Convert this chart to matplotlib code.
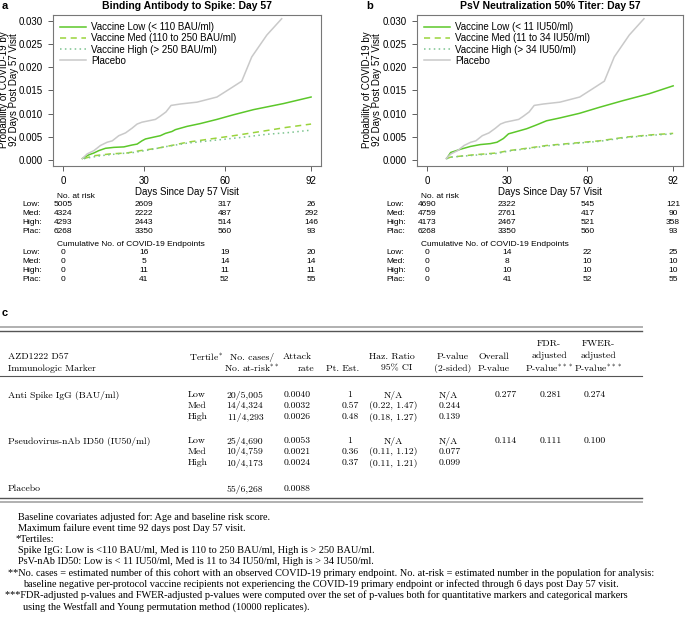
import numpy as np
import matplotlib.pyplot as plt
import matplotlib.transforms as mtransforms

W, H = 685, 619

# cumulative incidence curves (days, probability)
plac_days = [7.2, 9, 11.5, 13.9, 16.4, 18.3, 20.7, 23.2, 25.6, 27.5, 29.3, 31.8, 34.3,
             36.1, 38.2, 40.1, 43.5, 49.7, 57.1, 62, 66.3, 70, 75.6, 81.1]
plac_prob = [0.0004, 0.0014, 0.0021, 0.0032, 0.0039, 0.0042, 0.0053, 0.0059, 0.0069,
             0.0078, 0.0082, 0.0085, 0.0088, 0.0095, 0.0104, 0.0118, 0.0121, 0.0125,
             0.0136, 0.0154, 0.0170, 0.0222, 0.0269, 0.0304]

spike_low_days = [7.2, 9.6, 11.5, 13.3, 15.8, 18.9, 22.6, 25.6, 27.5, 29.3, 30.6, 33.7,
                  36.1, 38, 40.4, 41.7, 46, 50.9, 57.1, 63.3, 70.7, 81.8, 92]
spike_low_prob = [0.0004, 0.0012, 0.0016, 0.0021, 0.0026, 0.0028, 0.0029, 0.0033, 0.0035,
                  0.0042, 0.0046, 0.0050, 0.0053, 0.0058, 0.0062, 0.0066, 0.0073, 0.0079,
                  0.0088, 0.0098, 0.0109, 0.0122, 0.0136]
spike_med_days = [7.8, 11.5, 17.6, 23.8, 28.7, 34.9, 41.1, 46, 53.4, 63.3, 74.4, 83, 92]
spike_med_prob = [0.0004, 0.0010, 0.0014, 0.0016, 0.0021, 0.0026, 0.0033, 0.0039, 0.0045,
                  0.0053, 0.0063, 0.0071, 0.0078]
spike_high_days = [7.8, 13.9, 20.1, 26.3, 32.4, 38.6, 46, 55.9, 65.7, 75.6, 84.2, 92]
spike_high_prob = [0.0004, 0.0010, 0.0014, 0.0017, 0.0023, 0.0030, 0.0037, 0.0043, 0.0049,
                   0.0056, 0.0060, 0.0065]

psv_low_days = [7.4, 8.9, 12.6, 16.3, 20, 23.7, 26.2, 28.6, 30.5, 33.6, 37.3, 40.9, 44.7,
                49.6, 57, 64.5, 73.1, 83, 92]
psv_low_prob = [0.0004, 0.0017, 0.0024, 0.0030, 0.0034, 0.0036, 0.0039, 0.0047, 0.0057,
                0.0062, 0.0068, 0.0076, 0.0085, 0.0091, 0.0101, 0.0114, 0.0128, 0.0143, 0.0160]
psv_med_days = [7.4, 8.9, 17.5, 26.2, 30.5, 37.3, 44.7, 54.6, 64.5, 74.3, 84.2, 92]
psv_med_prob = [0.0004, 0.0007, 0.0012, 0.0016, 0.0021, 0.0026, 0.0032, 0.0037, 0.0042,
                0.0050, 0.0055, 0.0058]
psv_high_days = [7.4, 8.9, 17.5, 26.2, 30.5, 37.3, 44.7, 54.6, 64.5, 74.3, 84.2, 92]
psv_high_prob = [0.0004, 0.0007, 0.0011, 0.0015, 0.0020, 0.0025, 0.0031, 0.0036, 0.0041,
                 0.0049, 0.0054, 0.0057]

# risk tables
risk_times = [0, 30, 60, 92]
risk_rows = ['Low:', 'Med:', 'High:', 'Plac:']
spike_at_risk = [[5005, 2609, 317, 26], [4324, 2222, 487, 292],
                 [4293, 2443, 514, 146], [6268, 3350, 560, 93]]
spike_events = [[0, 16, 19, 20], [0, 5, 14, 14], [0, 11, 11, 11], [0, 41, 52, 55]]
psv_at_risk = [[4690, 2322, 545, 121], [4759, 2761, 417, 90],
               [4173, 2467, 521, 358], [6268, 3350, 560, 93]]
psv_events = [[0, 14, 22, 25], [0, 8, 10, 10], [0, 10, 10, 10], [0, 41, 52, 55]]

spike_labels = ['Vaccine Low (< 110 BAU/ml)', 'Vaccine Med (110 to 250 BAU/ml)',
                'Vaccine High (> 250 BAU/ml)', 'Placebo']
psv_labels = ['Vaccine Low (< 11 IU50/ml)', 'Vaccine Med (11 to 34 IU50/ml)',
              'Vaccine High (> 34 IU50/ml)', 'Placebo']

# table c
tertiles = ['Low', 'Med', 'High']
spike_cases = ['20/5,005', '14/4,324', '11/4,293']
spike_rate = ['0.0040', '0.0032', '0.0026']
spike_hr = ['1', '0.57', '0.48']
spike_ci = ['N/A', '(0.22, 1.47)', '(0.18, 1.27)']
spike_p = ['N/A', '0.244', '0.139']
spike_overall = ['0.277', '0.281', '0.274']
psv_cases = ['25/4,690', '10/4,759', '10/4,173']
psv_rate = ['0.0053', '0.0021', '0.0024']
psv_hr = ['1', '0.36', '0.37']
psv_ci = ['N/A', '(0.11, 1.12)', '(0.11, 1.21)']
psv_p = ['N/A', '0.077', '0.099']
psv_overall = ['0.114', '0.111', '0.100']
placebo_cases = '55/6,268'
placebo_rate = '0.0088'

footnotes = [
    (18, 'Baseline covariates adjusted for: Age and baseline risk score.'),
    (18, 'Maximum failure event time 92 days post Day 57 visit.'),
    (15, '*Tertiles:'),
    (18, 'Spike IgG: Low is <110 BAU/ml, Med is 110 to 250 BAU/ml, High is > 250 BAU/ml.'),
    (18, 'PsV-nAb ID50: Low is < 11 IU50/ml, Med is 11 to 34 IU50/ml, High is > 34 IU50/ml.'),
    (8, '**No. cases = estimated number of this cohort with an observed COVID-19 primary endpoint. '
        'No. at-risk = estimated number in the population for analysis:'),
    (23, 'baseline negative per-protocol vaccine recipients not experiencing the COVID-19 primary '
         'endpoint or infected through 6 days post Day 57 visit.'),
    (5, '***FDR-adjusted p-values and FWER-adjusted p-values were computed over the set of p-values '
        'both for quantitative markers and categorical markers'),
    (23, 'using the Westfall and Young permutation method (10000 replicates).'),
]

plt.rcParams['font.family'] = ['Liberation Sans', 'DejaVu Sans']
plt.rcParams['mathtext.fontset'] = 'cm'

fig = plt.figure(figsize=(W / 100, H / 100), dpi=100)


def fx(x):
    return x / W


def fy(y):
    return 1 - y / H


col_low, col_med, col_high, col_plac = '#5cc72a', '#9ad43c', '#7cc48f', '#c9c9c9'


def km_panel(left, right, title, letter, curves, labels, at_risk, events, ylab_x):
    ax = fig.add_axes([fx(left), fy(166), fx(right - left), (166 - 15) / H])
    (d1, p1), (d2, p2), (d3, p3), (d4, p4) = curves
    ax.plot(d1, p1, color=col_low, lw=1.1, label=labels[0])
    ax.plot(d2, p2, color=col_med, lw=1.1, ls=(0, (4, 3)), label=labels[1])
    ax.plot(d3, p3, color=col_high, lw=1.1, ls=(0, (1, 2.2)), label=labels[2])
    ax.plot(d4, p4, color=col_plac, lw=1.1, label=labels[3])
    ax.set_xlim(-3.68, 95.68)
    ax.set_ylim(-0.0012, 0.0312)
    ax.set_xticks(risk_times)
    ax.set_yticks(np.arange(0, 0.0301, 0.005))
    ax.set_yticklabels(['%.3f' % v for v in np.arange(0, 0.0301, 0.005)])
    ax.tick_params(labelsize=7, length=3.5, width=0.6, pad=4, color='#444444')
    for s in ax.spines.values():
        s.set_color('#777777')
        s.set_linewidth(0.8)
    ax.legend(loc='upper left', bbox_to_anchor=(0.0, 1.0), frameon=False, fontsize=7,
              handlelength=2.6, handletextpad=0.6, labelspacing=0.12, borderaxespad=0.35)
    ax.set_title(title, fontsize=7.5, fontweight='bold', pad=4)
    fig.text(fx(left - 51), fy(6), letter, fontsize=8, fontweight='bold', va='center')
    fig.text(fx(ylab_x), fy(90), 'Probability of COVID-19 by\n92 Days Post Day 57 Visit',
             rotation=90, fontsize=7, ha='center', va='center', linespacing=1.0)
    fig.text(fx((left + right) / 2), fy(192), 'Days Since Day 57 Visit', fontsize=7,
             ha='center', va='center')

    tr = mtransforms.blended_transform_factory(ax.transData, fig.transFigure)
    fig.text(fx(left + 4), fy(196), 'No. at risk', fontsize=6, va='center')
    fig.text(fx(left + 4), fy(244.5), 'Cumulative No. of COVID-19 Endpoints', fontsize=6,
             va='center')
    for block, y0 in ((at_risk, 205), (events, 253)):
        for i, row in enumerate(block):
            y = y0 + i * 8.9
            fig.text(fx(left - 31), fy(y), risk_rows[i], fontsize=6, va='center')
            for t, v in zip(risk_times, row):
                ax.text(t, fy(y), str(v), transform=tr, fontsize=6, ha='center', va='center')
    return ax


km_panel(53, 321, 'Binding Antibody to Spike: Day 57', 'a',
         [(spike_low_days, spike_low_prob), (spike_med_days, spike_med_prob),
          (spike_high_days, spike_high_prob), (plac_days, plac_prob)],
         spike_labels, spike_at_risk, spike_events, 9.5)
km_panel(417, 683, 'PsV Neutralization 50% Titer: Day 57', 'b',
         [(psv_low_days, psv_low_prob), (psv_med_days, psv_med_prob),
          (psv_high_days, psv_high_prob), (plac_days, plac_prob)],
         psv_labels, psv_at_risk, psv_events, 372)

# ---- table c ----
cm = dict(family='cmr10', fontsize=7.0, va='center')
fig.text(fx(2), fy(313), 'c', fontsize=8, fontweight='bold', va='center')


def hline(y, lw, color):
    fig.add_artist(plt.Line2D([fx(0), fx(642)], [fy(y), fy(y)], lw=lw, color=color))


hline(327, 1.4, '#b0b0b0')
hline(331, 1.0, '#555555')
hline(375.5, 0.8, '#555555')

fig.text(fx(8), fy(357), 'AZD1222 D57', ha='left', **cm)
fig.text(fx(8), fy(368.5), 'Immunologic Marker', ha='left', **cm)
fig.text(fx(206), fy(357), 'Tertile$^{*}$', ha='center', **cm)
fig.text(fx(252), fy(357), 'No. cases/', ha='center', **cm)
fig.text(fx(252), fy(368.5), 'No. at-risk$^{**}$', ha='center', **cm)
fig.text(fx(297), fy(357), 'Attack', ha='center', **cm)
fig.text(fx(306), fy(368.5), 'rate', ha='center', **cm)
fig.text(fx(392), fy(357), 'Haz. Ratio', ha='center', **cm)
fig.text(fx(343), fy(368.5), 'Pt. Est.', ha='center', **cm)
fig.text(fx(397), fy(368.5), '95% CI', ha='center', **cm)
fig.text(fx(453), fy(357), 'P-value', ha='center', **cm)
fig.text(fx(453), fy(368.5), '(2-sided)', ha='center', **cm)
fig.text(fx(494), fy(357), 'Overall', ha='center', **cm)
fig.text(fx(494), fy(368.5), 'P-value', ha='center', **cm)
for xc, first in ((549, 'FDR-'), (598, 'FWER-')):
    fig.text(fx(xc), fy(344), first, ha='center', **cm)
    fig.text(fx(xc), fy(356), 'adjusted', ha='center', **cm)
    fig.text(fx(xc), fy(368.5), 'P-value$^{***}$', ha='center', **cm)

groups = [('Anti Spike IgG (BAU/ml)', spike_cases, spike_rate, spike_hr, spike_ci, spike_p,
           spike_overall, 395),
          ('Pseudovirus-nAb ID50 (IU50/ml)', psv_cases, psv_rate, psv_hr, psv_ci, psv_p,
           psv_overall, 441)]
for name, cases, rate, hr, ci, pv, overall, y0 in groups:
    fig.text(fx(8), fy(y0), name, ha='left', **cm)
    for i in range(3):
        y = y0 + i * 11
        fig.text(fx(188), fy(y), tertiles[i], ha='left', **cm)
        fig.text(fx(245), fy(y), cases[i], ha='center', **cm)
        fig.text(fx(297), fy(y), rate[i], ha='center', **cm)
        fig.text(fx(350), fy(y), hr[i], ha='center', **cm)
        fig.text(fx(393), fy(y), ci[i], ha='center', **cm)
        fig.text(fx(439), fy(y), pv[i], ha='left', **cm)
    for xc, v in zip((506, 551, 595), overall):
        fig.text(fx(xc), fy(y0), v, ha='center', **cm)

fig.text(fx(8), fy(489), 'Placebo', ha='left', **cm)
fig.text(fx(245), fy(489), placebo_cases, ha='center', **cm)
fig.text(fx(297), fy(489), placebo_rate, ha='center', **cm)

hline(498, 1.0, '#555555')
hline(502, 1.4, '#b0b0b0')

for i, (x0, line) in enumerate(footnotes):
    fig.text(fx(x0), fy(517 + i * 11.2), line, family='Liberation Serif', fontsize=7.4,
             ha='left', va='center')

fig.savefig('out.png', dpi=100)
